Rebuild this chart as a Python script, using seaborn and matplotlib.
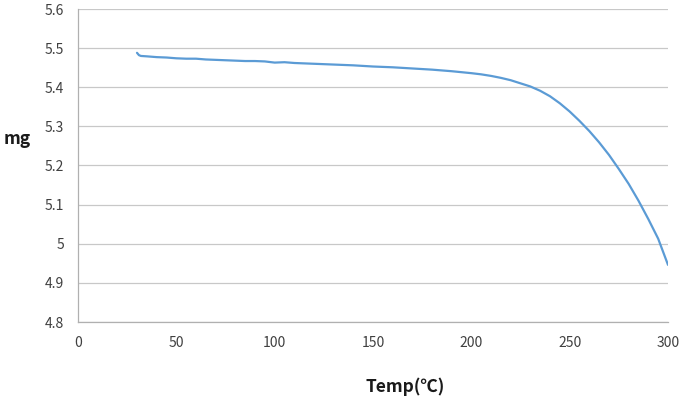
import matplotlib
matplotlib.use("Agg")
import matplotlib.pyplot as plt
import seaborn as sns
import pandas as pd

temp = [30, 31, 32, 35, 40, 45, 50, 55, 60, 65, 70, 75, 80, 85, 90, 95, 100, 105, 110,
        120, 130, 140, 150, 160, 170, 180, 190, 200, 205, 210, 215, 220, 225, 230,
        235, 240, 245, 250, 255, 260, 265, 270, 275, 280, 285, 290, 295, 300]
mass = [5.488, 5.482, 5.480, 5.479, 5.477, 5.476, 5.474, 5.473, 5.473, 5.471, 5.470,
        5.469, 5.468, 5.467, 5.467, 5.466, 5.463, 5.464, 5.462, 5.460, 5.458, 5.456,
        5.453, 5.451, 5.448, 5.445, 5.441, 5.436, 5.433, 5.429, 5.424, 5.418, 5.410,
        5.402, 5.391, 5.377, 5.359, 5.338, 5.314, 5.288, 5.259, 5.227, 5.191, 5.153,
        5.110, 5.063, 5.013, 4.946]

df = pd.DataFrame({"Temp": temp, "mg": mass})

sns.set_style("white")
plt.rcParams["font.family"] = ["Noto Sans CJK KR", "DejaVu Sans"]

fig = plt.figure(figsize=(6.81, 4.03), dpi=100)
ax = fig.add_axes([78 / 681, 1 - 322 / 403, (668 - 78) / 681, (322 - 9) / 403])

sns.lineplot(data=df, x="Temp", y="mg", ax=ax, color="#5B9BD5", linewidth=1.6)

ax.set_xlim(0, 300)
ax.set_ylim(4.8, 5.6)
ax.set_xticks([0, 50, 100, 150, 200, 250, 300])
ax.set_yticks([4.8, 4.9, 5.0, 5.1, 5.2, 5.3, 5.4, 5.5, 5.6])
ax.set_yticklabels(["4.8", "4.9", "5", "5.1", "5.2", "5.3", "5.4", "5.5", "5.6"])
ax.grid(axis="y", color="#c8c8c8", linewidth=0.9)
ax.grid(axis="x", visible=False)
for s in ["top", "right"]:
    ax.spines[s].set_visible(False)
for s in ["left", "bottom"]:
    ax.spines[s].set_color("#b0b0b0")
    ax.spines[s].set_linewidth(0.9)
ax.tick_params(axis="both", which="major", length=4, width=0.9, color="#b0b0b0",
               labelsize=10, labelcolor="#404040", pad=6)
ax.tick_params(axis="x", pad=6)
ax.set_xlabel("")
ax.set_ylabel("")

fig.text(17 / 681, 1 - 139 / 403, "mg", fontsize=12.5, fontweight="bold",
         ha="center", va="center", color="#1a1a1a")
fig.text(405 / 681, 1 - 387 / 403, "Temp(℃)", fontsize=12.5, fontweight="bold",
         ha="center", va="center", color="#1a1a1a")

fig.savefig("out.png", dpi=100)
